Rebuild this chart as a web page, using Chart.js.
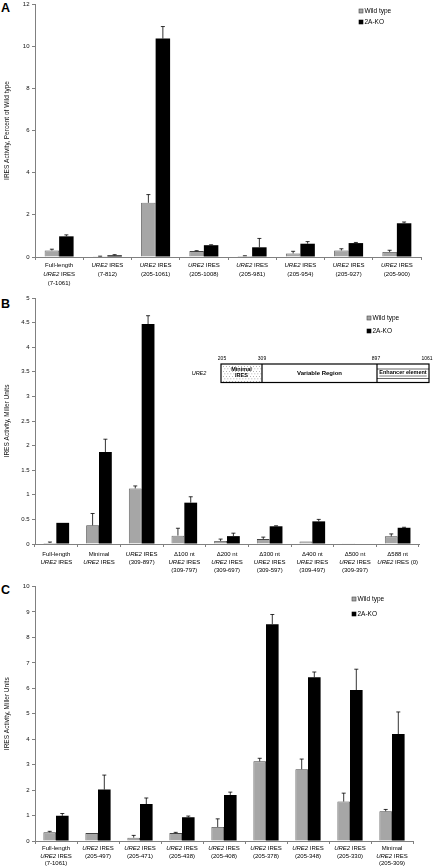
<!DOCTYPE html>
<html>
<head>
<meta charset="utf-8">
<script src="https://cdn.jsdelivr.net/npm/chart.js@4.4.1/dist/chart.umd.min.js"></script>
<style>
  body { margin: 0; background: #fff; width: 435px; height: 868px; position: relative; overflow: hidden; }
  canvas { position: absolute; left: 0; }
  .tag { position: absolute; font: bold 12.5px Arial, "Liberation Sans", sans-serif; color: #000; }
</style>
</head>
<body>
<div class="tag" style="left:1px;top:1px">A</div>
<div class="tag" style="left:1px;top:297px">B</div>
<div class="tag" style="left:1px;top:583px">C</div>
<canvas id="chartA" width="435" height="292" style="top:0px"></canvas>
<canvas id="chartB" width="435" height="290" style="top:290px"></canvas>
<canvas id="chartC" width="435" height="290" style="top:578px"></canvas>
<script>
const series = ["Wild type", "2A-KO"];

// panel A  (*...* = italic)
const labelsA = [
  ["Full-length", "*URE2* IRES", "(7-1061)"],
  ["*URE2* IRES", "(7-812)"],
  ["*URE2* IRES", "(205-1061)"],
  ["*URE2* IRES", "(205-1008)"],
  ["*URE2* IRES", "(205-981)"],
  ["*URE2* IRES", "(205-954)"],
  ["*URE2* IRES", "(205-927)"],
  ["*URE2* IRES", "(205-900)"]
];
const wtA = [0.31, 0.03, 2.57, 0.28, 0.05, 0.17, 0.31, 0.24];
const wtErrA = [0.06, 0.01, 0.39, 0.02, 0.01, 0.1, 0.08, 0.08];
const koA = [0.98, 0.08, 10.36, 0.56, 0.46, 0.63, 0.66, 1.6];
const koErrA = [0.07, 0.03, 0.57, 0.02, 0.42, 0.1, 0.03, 0.06];

// panel B
const labelsB = [
  ["Full-length", "*URE2* IRES"],
  ["Minimal", "*URE2* IRES"],
  ["*URE2* IRES", "(309-897)"],
  ["\u0394100 nt", "*URE2* IRES", "(309-797)"],
  ["\u0394200 nt", "*URE2* IRES", "(309-697)"],
  ["\u0394300 nt", "*URE2* IRES", "(309-597)"],
  ["\u0394400 nt", "*URE2* IRES", "(309-497)"],
  ["\u0394500 nt", "*URE2* IRES", "(309-397)"],
  ["\u0394588 nt", "*URE2* IRES (0)"]
];
const wtB = [0.02, 0.38, 1.13, 0.17, 0.06, 0.1, 0.05, 0.005, 0.155];
const wtErrB = [0.02, 0.24, 0.05, 0.15, 0.04, 0.04, 0, 0, 0.05];
const koB = [0.43, 1.87, 4.47, 0.84, 0.16, 0.36, 0.46, 0.01, 0.33];
const koErrB = [0, 0.26, 0.17, 0.12, 0.06, 0.01, 0.04, 0, 0.01];

// panel C
const labelsC = [
  ["Full-length", "*URE2* IRES", "(7-1061)"],
  ["*URE2* IRES", "(205-497)"],
  ["*URE2* IRES", "(205-471)"],
  ["*URE2* IRES", "(205-438)"],
  ["*URE2* IRES", "(205-408)"],
  ["*URE2* IRES", "(205-378)"],
  ["*URE2* IRES", "(205-348)"],
  ["*URE2* IRES", "(205-330)"],
  ["Minimal", "*URE2* IRES", "(205-309)"]
];
const wtC = [0.34, 0.31, 0.13, 0.31, 0.55, 3.13, 2.82, 1.55, 1.17];
const wtErrC = [0.04, 0, 0.09, 0.03, 0.32, 0.12, 0.4, 0.33, 0.07];
const koC = [0.99, 2.02, 1.45, 0.93, 1.81, 8.52, 6.43, 5.93, 4.2];
const koErrC = [0.09, 0.57, 0.24, 0.05, 0.11, 0.38, 0.21, 0.82, 0.87];

const FONT = 'Arial, "Liberation Sans", sans-serif';
const GREY = "#a6a6a6";

function drawRich(ctx, text, cx, y, size, weight) {
  const parts = text.split("*");
  const w = parts.map((t, i) => {
    ctx.font = (i % 2 ? "italic " : "") + (weight || "") + " " + size + "px " + FONT;
    return ctx.measureText(t).width;
  });
  let x = cx - w.reduce((a, b) => a + b, 0) / 2;
  parts.forEach((t, i) => {
    ctx.font = (i % 2 ? "italic " : "") + (weight || "") + " " + size + "px " + FONT;
    ctx.fillText(t, x, y);
    x += w[i];
  });
}

function drawInset(ctx, oy) {
  const t = 364 - oy, b = 382.5 - oy;
  const x0 = 221, x1 = 262, x2 = 377, x3 = 429;
  ctx.save();
  // stipple for minimal IRES
  ctx.fillStyle = "#666";
  let row = 0;
  for (let y = t + 2; y < b - 1; y += 2.5, row++) {
    for (let x = x0 + 2 + (row % 2) * 1.5; x < x1 - 1; x += 3) ctx.fillRect(x, y, 0.7, 0.7);
  }
  ctx.strokeStyle = "#000";
  ctx.lineWidth = 1.2;
  ctx.strokeRect(x0, t, x3 - x0, b - t);
  ctx.beginPath();
  ctx.moveTo(x1, t); ctx.lineTo(x1, b);
  ctx.moveTo(x2, t); ctx.lineTo(x2, b);
  ctx.stroke();
  ctx.lineWidth = 0.6;
  ctx.beginPath();
  ctx.moveTo(x2, t + 5); ctx.lineTo(x3, t + 5);
  ctx.moveTo(x2, b - 4); ctx.lineTo(x3, b - 4);
  ctx.stroke();
  ctx.fillStyle = "#000";
  ctx.textBaseline = "middle";
  ctx.textAlign = "left";
  drawRich(ctx, "Minimal", (x0 + x1) / 2, t + 5, 5.5, "bold");
  drawRich(ctx, "IRES", (x0 + x1) / 2, t + 11.5, 5.5, "bold");
  drawRich(ctx, "Variable Region", (x1 + x2) / 2, (t + b) / 2, 6, "bold");
  drawRich(ctx, "Enhancer element", (x2 + x3) / 2, (t + b) / 2 - 0.5, 5.5, "bold");
  ctx.font = "bold 5.5px " + FONT;
  const ew = ctx.measureText("Enhancer element").width;
  ctx.fillRect((x2 + x3) / 2 - ew / 2, (t + b) / 2 + 2.5, ew, 0.5);
  ctx.textAlign = "center";
  ctx.font = "5px " + FONT;
  ctx.fillText("205", 222, 359 - oy);
  ctx.fillText("309", 262, 359 - oy);
  ctx.fillText("897", 376, 359 - oy);
  ctx.fillText("1061", 427, 359 - oy);
  ctx.textAlign = "left";
  drawRich(ctx, "*URE2*", 199, 373 - oy, 5.5);
  ctx.restore();
}

function panelPlugin(p) {
  return {
    id: "panel" + p.key,
    afterDatasetsDraw(chart) {
      const ctx = chart.ctx, ys = chart.scales.y;
      ctx.save();
      ctx.strokeStyle = "#000";
      ctx.lineWidth = 0.8;
      [p.wtErr, p.koErr].forEach((errs, d) => {
        const meta = chart.getDatasetMeta(d);
        const vals = chart.data.datasets[d].data;
        meta.data.forEach((el, i) => {
          if (!errs[i]) return;
          const yTop = ys.getPixelForValue(vals[i] + errs[i]);
          ctx.beginPath();
          ctx.moveTo(el.x, el.y);
          ctx.lineTo(el.x, yTop);
          ctx.moveTo(el.x - 2, yTop);
          ctx.lineTo(el.x + 2, yTop);
          ctx.stroke();
        });
      });
      ctx.restore();
    },
    afterDraw(chart) {
      const ctx = chart.ctx, xs = chart.scales.x, area = chart.chartArea;
      ctx.save();
      ctx.fillStyle = "#000";
      ctx.textBaseline = "middle";
      ctx.textAlign = "left";
      p.labels.forEach((lines, i) => {
        const cx = xs.getPixelForValue(i);
        lines.forEach((ln, j) => drawRich(ctx, ln, cx, area.bottom + p.lab0 + j * p.labStep, 6));
      });
      // legend
      series.forEach((name, k) => {
        const y = p.leg[1 + k] - p.top;
        ctx.fillStyle = k ? "#000" : GREY;
        ctx.fillRect(p.leg[0], y - 2, 4, 4);
        ctx.strokeStyle = k ? "#000" : "#444";
        ctx.lineWidth = 0.6;
        ctx.strokeRect(p.leg[0], y - 2, 4, 4);
        ctx.fillStyle = "#000";
        ctx.font = "6.5px " + FONT;
        ctx.fillText(name, p.leg[0] + 5.5, y + 0.3);
      });
      if (p.inset) drawInset(ctx, p.top);
      ctx.restore();
    }
  };
}

function makeChart(id, p) {
  return new Chart(document.getElementById(id), {
    type: "bar",
    data: {
      labels: p.labels.map(l => l.join(" ")),
      datasets: [
        { label: series[0], data: p.wt, backgroundColor: GREY, borderColor: "#444", borderWidth: 0.8,
          categoryPercentage: 0.6, barPercentage: 1 },
        { label: series[1], data: p.ko, backgroundColor: "#000", borderColor: "#000", borderWidth: 0,
          categoryPercentage: 0.6, barPercentage: 1 }
      ]
    },
    options: {
      responsive: false,
      animation: false,
      layout: { padding: p.pad },
      plugins: { legend: { display: false }, tooltip: { enabled: false } },
      scales: {
        x: {
          ticks: { display: false },
          grid: { drawOnChartArea: false, drawTicks: true, tickLength: 3, color: "#808080" },
          border: { color: "#808080" },
          afterFit(s) { s.height = p.xh; s.paddingLeft = 0; s.paddingRight = 0; }
        },
        y: {
          min: 0, max: p.max,
          ticks: { stepSize: p.step, color: "#111", padding: 2.5, font: { size: 6, family: FONT },
            callback: v => String(v) },
          grid: { drawOnChartArea: false, drawTicks: true, tickLength: 3, color: "#808080" },
          border: { color: "#808080" },
          title: { display: true, text: p.title, color: "#111", font: { size: 6.5, family: FONT },
            padding: { top: 3.5, bottom: 0 } },
          afterFit(s) { s.width = 35; s.paddingTop = 0; s.paddingBottom = 0; }
        }
      }
    },
    plugins: [panelPlugin(p)]
  });
}

makeChart("chartA", {
  key: "A", top: 0, labels: labelsA, wt: wtA, wtErr: wtErrA, ko: koA, koErr: koErrA,
  max: 12, step: 2, title: "IRES Activity, Percent of Wild type",
  pad: { top: 4, right: 14, left: 0, bottom: 0 }, xh: 35, lab0: 8.5, labStep: 8.7,
  leg: [359, 11, 22]
});
makeChart("chartB", {
  key: "B", top: 290, labels: labelsB, wt: wtB, wtErr: wtErrB, ko: koB, koErr: koErrB,
  max: 5, step: 0.5, title: "IRES Activity, Miller Units",
  pad: { top: 8, right: 16, left: 0, bottom: 0 }, xh: 36, lab0: 10.7, labStep: 8,
  leg: [367, 318, 331], inset: true
});
makeChart("chartC", {
  key: "C", top: 578, labels: labelsC, wt: wtC, wtErr: wtErrC, ko: koC, koErr: koErrC,
  max: 10, step: 1, title: "IRES Activity, Miller Units",
  pad: { top: 8.5, right: 22, left: 0, bottom: 0 }, xh: 27, lab0: 7.3, labStep: 7.6,
  leg: [352, 599, 614]
});
</script>
</body>
</html>
